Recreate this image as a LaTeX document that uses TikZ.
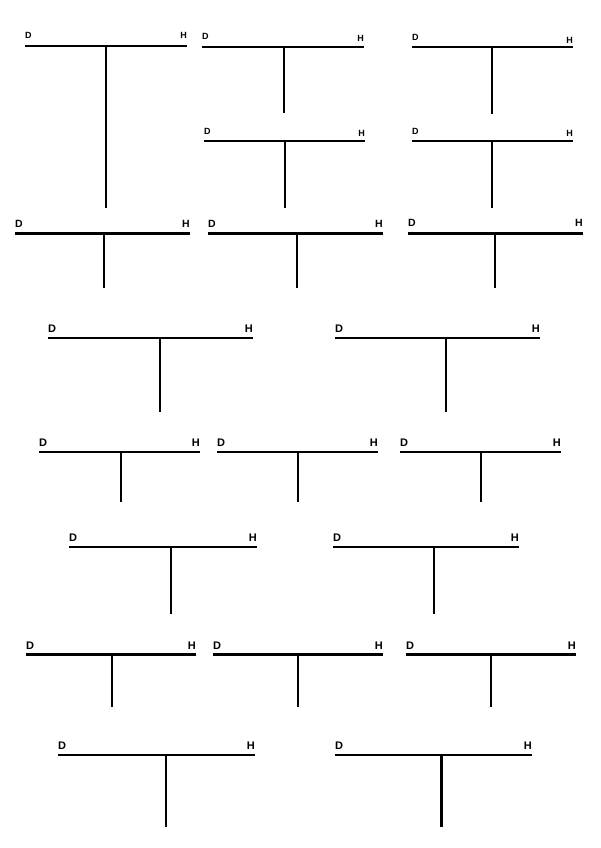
\documentclass[tikz,border=0pt]{standalone}
\usepackage{fontspec}
\setmainfont{Liberation Sans}
\tikzset{
  hline/.style={line width=2pt},
  vline/.style={line width=2pt},
  lbl/.style={font=\bfseries\fontsize{11}{13}\selectfont, inner sep=0pt},
  small/.style={lbl/.style={font=\bfseries\fontsize{9}{10}\selectfont, inner sep=0pt}},
  medium/.style={lbl/.style={font=\bfseries\fontsize{10.5}{12}\selectfont, inner sep=0pt}},
  large/.style={},
  thickh/.style={hline/.style={line width=3pt}},
  thickv/.style={vline/.style={line width=3pt}},
}
\newcommand\tacct[9]{%
  \begin{scope}[#9]
    \coordinate (#1l) at (#2,#4);
    \coordinate (#1r) at (#3,#4);
    \coordinate (#1t) at (#5,#4);
    \coordinate (#1b) at (#5,#6);
    \draw[hline] (#1l) -- (#1r);
    \draw[vline] (#1t) -- (#1b);
    \node[lbl, anchor=base west] (#1D) at (#2,#7) {D};
    \node[lbl, anchor=base east] (#1H) at (#3,#8) {H};
  \end{scope}}
\begin{document}
\begin{tikzpicture}[x=1pt,y=-1pt]
  \useasboundingbox (0,0) rectangle (600,848);
  \fill[white] (0,0) rectangle (600,848);
  % row 1
  \tacct{ta}{25}{187}{46}{106}{208}{39}{39}{small}
  \tacct{tb}{202}{364}{47}{284}{113}{40}{41.5}{small}
  \tacct{tc}{412}{573}{47}{492}{114}{41}{43.5}{small}
  \tacct{td}{204}{365}{141}{285}{208}{134.5}{136.5}{small}
  \tacct{te}{412}{573}{141}{492}{208}{134.5}{136}{small}
  % row 2
  \tacct{tf}{15}{190}{233.5}{104}{288}{227}{227}{medium,thickh}
  \tacct{tg}{208}{383}{233.5}{297}{288}{227}{227}{medium,thickh}
  \tacct{th}{408}{583}{233.5}{495}{288}{226.5}{226.5}{medium,thickh}
  % row 3
  \tacct{ti}{48}{253}{338}{160}{412}{332}{332}{large}
  \tacct{tj}{335}{540}{338}{446}{412}{332}{332}{large}
  % row 4
  \tacct{tk}{39}{200}{452}{121}{502}{446}{446}{large}
  \tacct{tl}{217}{378}{452}{298}{502}{446}{446}{large}
  \tacct{tm}{400}{561}{452}{481}{502}{446}{446}{large}
  % row 5
  \tacct{tn}{69}{257}{547}{171}{614}{541}{541}{large}
  \tacct{to}{333}{519}{547}{434}{614}{541}{541}{large}
  % row 6
  \tacct{tp}{26}{196}{654.5}{112}{707}{649}{649}{large,thickh}
  \tacct{tq}{213}{383}{654.5}{298}{707}{649}{649}{large,thickh}
  \tacct{tr}{406}{576}{654.5}{491}{707}{649}{649}{large,thickh}
  % row 7
  \tacct{ts}{58}{255}{755}{166}{827}{749}{749}{large}
  \tacct{tt}{335}{532}{755}{441.5}{827}{749}{749}{large,thickv}
\end{tikzpicture}
\end{document}
